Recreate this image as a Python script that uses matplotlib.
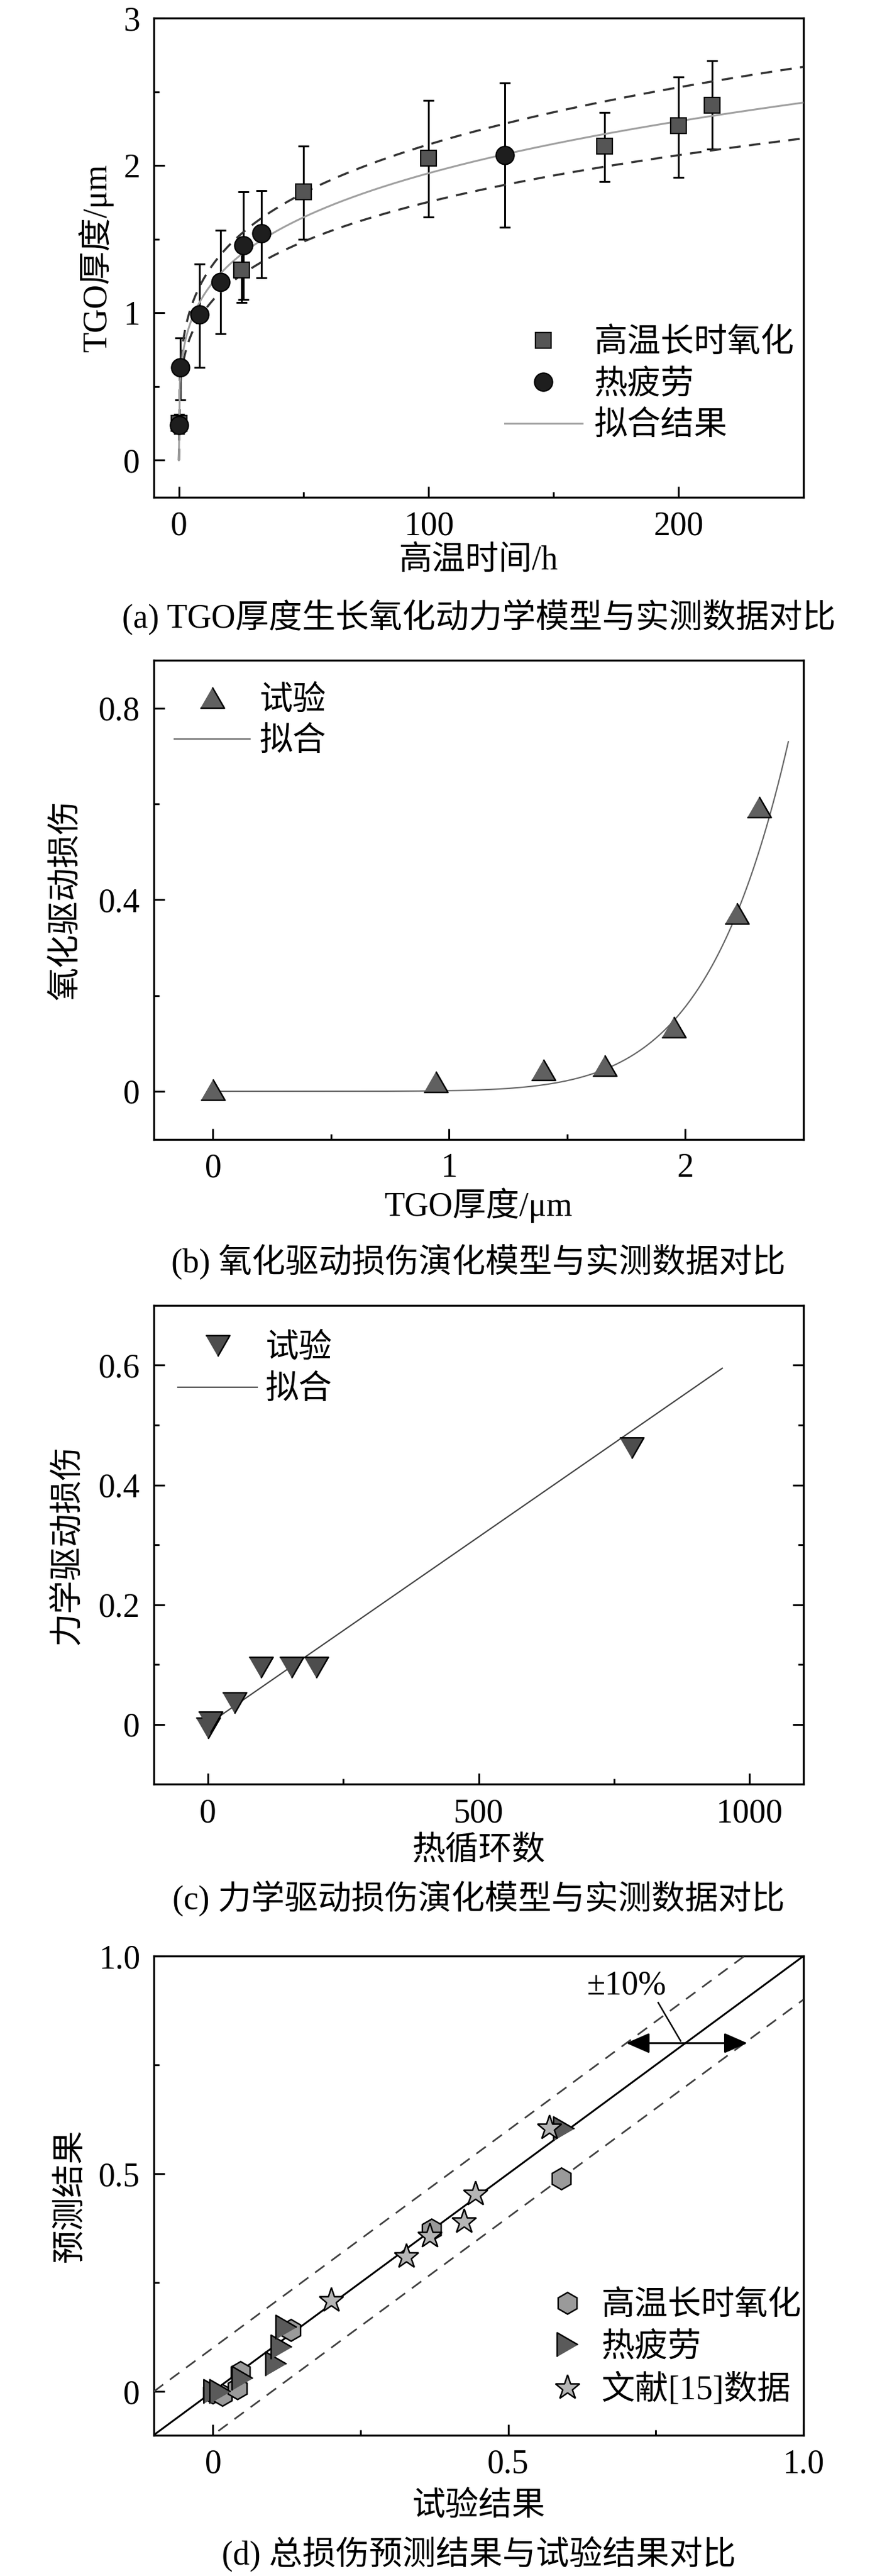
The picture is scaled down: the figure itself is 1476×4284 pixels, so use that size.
import numpy as np
import matplotlib
matplotlib.use('Agg')
import matplotlib.pyplot as plt

plt.rcParams['font.family'] = ['Liberation Serif', 'Noto Sans CJK SC', 'DejaVu Sans']
plt.rcParams['axes.unicode_minus'] = False

FS = 40

# ---------------- Panel (a) data ----------------
a_oxi_t = [0, 25, 50, 100, 170.5, 200, 213.4]
a_oxi_y = [0.25, 1.29, 1.82, 2.05, 2.13, 2.27, 2.41]
a_oxi_hi = [0.31, 1.50, 2.13, 2.44, 2.36, 2.60, 2.71]
a_oxi_lo = [0.18, 1.07, 1.50, 1.65, 1.89, 1.92, 2.11]
a_tf_t = [0, 0.6, 8.2, 16.8, 25.8, 33.0, 130.5]
a_tf_y = [0.24, 0.63, 0.99, 1.21, 1.46, 1.54, 2.07]
a_tf_hi = [0.27, 0.83, 1.33, 1.56, 1.82, 1.83, 2.56]
a_tf_lo = [0.21, 0.41, 0.63, 0.86, 1.09, 1.24, 1.58]
a_fit_coef = 0.645      # fitted kinetics  h = k * t^n
a_fit_exp = 0.24
a_band = 0.10           # +-10 % band
a_fit_tmax = 250
a_xticks = [0, 100, 200]
a_xticklabels = ['0', '100', '200']
a_yticks = [0, 1, 2, 3]
a_yticklabels = ['0', '1', '2', '3']

# ---------------- Panel (b) data ----------------
b_h = [0.0, 0.944, 1.399, 1.657, 1.950, 2.218, 2.312]
b_d = [0.003, 0.020, 0.045, 0.054, 0.134, 0.372, 0.594]
b_fit_coef = 0.0012     # fitted  D = k * h^n
b_fit_exp = 7.2
b_fit_hmax = 2.436
b_xticks = [0, 1, 2]
b_xticklabels = ['0', '1', '2']
b_yticks = [0, 0.4, 0.8]
b_yticklabels = ['0', '0.4', '0.8']

# ---------------- Panel (c) data ----------------
c_n = [0, 4, 49, 98, 154, 200, 782]
c_d = [-0.006, 0.004, 0.036, 0.095, 0.095, 0.095, 0.462]
c_fit_slope = 6.26e-4
c_fit_icpt = 0.0003
c_fit_range = [17, 950]
c_xticks = [0, 500, 1000]
c_xticklabels = ['0', '500', '1000']
c_yticks = [0, 0.2, 0.4, 0.6]
c_yticklabels = ['0', '0.2', '0.4', '0.6']

# ---------------- Panel (d) data ----------------
d_oxi_x = [0.0, 0.016, 0.041, 0.047, 0.132, 0.370, 0.590]
d_oxi_y = [-0.002, -0.008, 0.007, 0.045, 0.141, 0.371, 0.489]
d_tf_x = [0.002, 0.012, 0.050, 0.107, 0.116, 0.124, 0.594]
d_tf_y = [0.0, 0.0, 0.030, 0.064, 0.102, 0.148, 0.603]
d_lit_x = [0.200, 0.327, 0.367, 0.425, 0.444, 0.570]
d_lit_y = [0.208, 0.309, 0.356, 0.390, 0.453, 0.605]
d_ref = [-0.1, 1.0]
d_band = 0.1
d_xticks = [0, 0.5, 1.0]
d_xticklabels = ['0', '0.5', '1.0']
d_yticks = [0, 0.5, 1.0]
d_yticklabels = ['0', '0.5', '1.0']

# ---------------- figure & layout ----------------
W_PX, H_PX = 1476, 4284
fig = plt.figure(figsize=(W_PX / 100, H_PX / 100), dpi=100)

AX_L = 256 / W_PX
AX_W = 1081 / W_PX
AX_H = 796.5 / H_PX
bottoms_px = [826.7, 1894.5, 2967.4, 4049.5]
axs = [fig.add_axes([AX_L, (H_PX - b) / H_PX, AX_W, AX_H]) for b in bottoms_px]
XC = (256 + 1081 / 2) / W_PX

TRI_UP = [(-1, -0.866), (1, -0.866), (0, 0.866)]
TRI_DN = [(-1, 0.866), (1, 0.866), (0, -0.866)]
TRI_RT = [(-0.866, -1), (-0.866, 1), (0.866, 0)]


def style(ax, right=False):
    for s in ax.spines.values():
        s.set_linewidth(2.4)
    ax.tick_params(which='both', direction='in', top=False, right=right,
                   labelsize=FS, pad=16.5, width=2.2)
    ax.tick_params(which='major', length=13)
    ax.tick_params(which='minor', length=6.5)


def labels(ax, xl, yl, ylx, xly, cap, capy):
    ax.set_xlabel(xl, fontsize=FS)
    ax.set_ylabel(yl, fontsize=FS)
    ax.xaxis.set_label_coords(0.5, xly)
    ax.xaxis.label.set_verticalalignment('center')
    ax.yaxis.set_label_coords(ylx, 0.5)
    ax.yaxis.label.set_verticalalignment('center')
    fig.text(XC, (H_PX - capy) / H_PX, cap, ha='center', va='center', fontsize=FS)


LEG = dict(frameon=False, fontsize=FS, borderpad=0, borderaxespad=0, numpoints=1,
           loc='center left', labelspacing=0.3)

# ---------------- (a) ----------------
ax = axs[0]
t = np.linspace(0, a_fit_tmax, 600)
fit = a_fit_coef * t ** a_fit_exp
oy = np.array(a_oxi_y); ty = np.array(a_tf_y)
ax.errorbar(a_oxi_t, oy, yerr=[oy - np.array(a_oxi_lo), np.array(a_oxi_hi) - oy],
            fmt='none', ecolor='black', elinewidth=2.2, capsize=6.8, capthick=2.2, zorder=2)
ax.errorbar(a_tf_t, ty, yerr=[ty - np.array(a_tf_lo), np.array(a_tf_hi) - ty],
            fmt='none', ecolor='black', elinewidth=2.2, capsize=6.8, capthick=2.2, zorder=2)
ax.plot(t, fit * (1 + a_band), color='#333333', lw=2.5, ls=(0, (5.5, 4)), zorder=3)
ax.plot(t, fit * (1 - a_band), color='#333333', lw=2.5, ls=(0, (5.5, 4)), zorder=3)
ax.plot(t, fit, color='#a0a0a0', lw=2.2, zorder=3, label='拟合结果')
ax.plot(a_oxi_t, a_oxi_y, ls='none', marker='s', ms=19.4, mfc='#555555', mec='black',
        mew=1.6, zorder=4, label='高温长时氧化')
ax.plot(a_tf_t, a_tf_y, ls='none', marker='o', ms=21.6, mfc='#1e1e1e', mec='black',
        mew=1.6, zorder=5, label='热疲劳')
ax.set_xlim(-10, 250)
ax.set_ylim(-0.25, 3)
ax.set_xticks(a_xticks, a_xticklabels)
ax.set_yticks(a_yticks, a_yticklabels)
ax.set_xticks([50, 150], minor=True)
ax.set_yticks([0.5, 1.5, 2.5], minor=True)
style(ax)
h, l = ax.get_legend_handles_labels()
order = [1, 2, 0]
ax.legend([h[i] for i in order], [l[i] for i in order],
          bbox_to_anchor=(0.540, 0.234), handlelength=2.32, handletextpad=0.36, **LEG)
labels(ax, '高温时间/h', 'TGO厚度/μm', -0.0888, -0.1335,
       '(a) TGO厚度生长氧化动力学模型与实测数据对比', 1026)

# ---------------- (b) ----------------
ax = axs[1]
hh = np.linspace(0, b_fit_hmax, 400)
ax.plot(b_h, b_d, ls='none', marker=TRI_UP, ms=28.8, mfc='#606060', mec='black',
        mew=1.8, zorder=4, label='试验')
ax.plot(hh, b_fit_coef * hh ** b_fit_exp, color='#666666', lw=1.6, zorder=3, label='拟合')
ax.set_xlim(-0.25, 2.5)
ax.set_ylim(-0.1, 0.9)
ax.set_xticks(b_xticks, b_xticklabels)
ax.set_yticks(b_yticks, b_yticklabels)
ax.set_xticks([0.5, 1.5], minor=True)
ax.set_yticks([0.2, 0.6], minor=True)
style(ax)
ax.legend(bbox_to_anchor=(0.0315, 0.872), handlelength=2.27, handletextpad=0.27, **LEG)
labels(ax, 'TGO厚度/μm', '氧化驱动损伤', -0.134, -0.1381,
       '(b) 氧化驱动损伤演化模型与实测数据对比', 2098)

# ---------------- (c) ----------------
ax = axs[2]
nn = np.array(c_fit_range)
ax.plot(c_n, c_d, ls='none', marker=TRI_DN, ms=28.8, mfc='#4d4d4d', mec='black',
        mew=1.8, zorder=4, label='试验')
ax.plot(nn, c_fit_slope * nn + c_fit_icpt, color='#444444', lw=1.6, zorder=3, label='拟合')
ax.set_xlim(-100, 1100)
ax.set_ylim(-0.1, 0.7)
ax.set_xticks(c_xticks, c_xticklabels)
ax.set_yticks(c_yticks, c_yticklabels)
ax.set_xticks([250, 750], minor=True)
ax.set_yticks([0.1, 0.3, 0.5], minor=True)
style(ax, right=True)
ax.legend(bbox_to_anchor=(0.037, 0.866), handlelength=2.37, handletextpad=0.25, **LEG)
labels(ax, '热循环数', '力学驱动损伤', -0.132, -0.1389,
       '(c) 力学驱动损伤演化模型与实测数据对比', 3157)

# ---------------- (d) ----------------
ax = axs[3]
r = np.array(d_ref)
ax.plot(r, r, color='black', lw=2.2, zorder=3)
ax.plot(r, r + d_band, color='#404040', lw=2.0, ls=(0, (7, 5)), zorder=3)
ax.plot(r, r - d_band, color='#404040', lw=2.0, ls=(0, (7, 5)), zorder=3)
ax.plot(d_oxi_x, d_oxi_y, ls='none', marker='h', ms=26, mfc='#9a9a9a', mec='black',
        mew=1.8, zorder=4, label='高温长时氧化')
ax.plot(d_tf_x, d_tf_y, ls='none', marker=TRI_RT, ms=28.8, mfc='#5a5a5a', mec='black',
        mew=1.8, zorder=5, label='热疲劳')
ax.plot(d_lit_x, d_lit_y, ls='none', marker='*', ms=31, mfc='#b5b5b5', mec='black',
        mew=1.8, zorder=6, label='文献[15]数据')
ax.annotate('', xy=(0.905, 0.8), xytext=(0.70, 0.8),
            arrowprops=dict(arrowstyle='<|-|>,head_length=0.8,head_width=0.35',
                            mutation_scale=30, lw=2.2, color='black',
                            shrinkA=0, shrinkB=0), zorder=6)
ax.plot([0.754, 0.792], [0.893, 0.805], color='black', lw=1.8, zorder=6)
ax.text(0.701, 0.931, '±10%', fontsize=FS, ha='center', va='center', zorder=6)
ax.set_xlim(-0.1, 1.0)
ax.set_ylim(-0.1, 1.0)
ax.set_xticks(d_xticks, d_xticklabels)
ax.set_yticks(d_yticks, d_yticklabels)
ax.set_xticks([0.25, 0.75], minor=True)
ax.set_yticks([0.25, 0.75], minor=True)
style(ax)
ax.legend(bbox_to_anchor=(0.595, 0.18), handlelength=1.6, handletextpad=0.23, **LEG)
labels(ax, '试验结果', '预测结果', -0.128, -0.1494,
       '(d) 总损伤预测结果与试验结果对比', 4247)

fig.savefig('out.png', dpi=100, facecolor='white')
